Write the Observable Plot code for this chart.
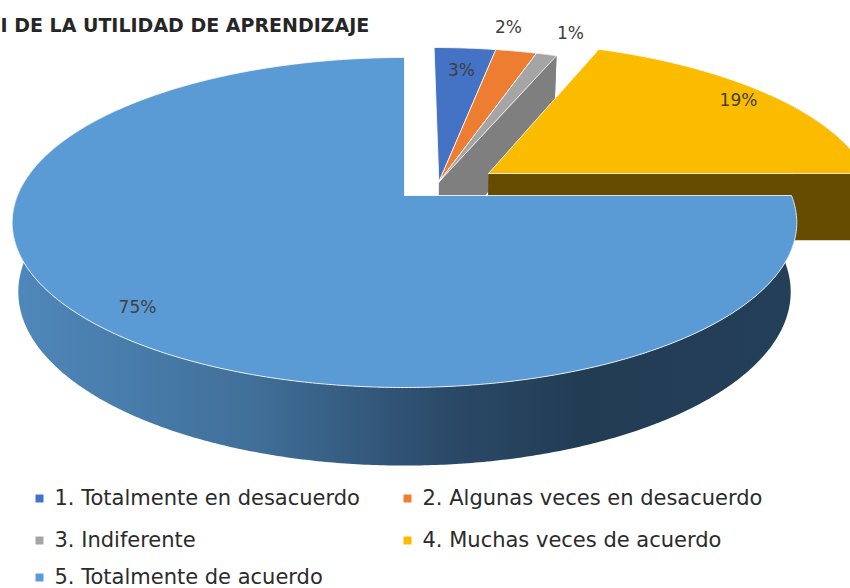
<!DOCTYPE html>
<html>
<head>
<meta charset="utf-8">
<script src="https://cdn.jsdelivr.net/npm/d3@7"></script>
<script src="https://cdn.jsdelivr.net/npm/@observablehq/plot@0.6"></script>
<style>html,body{margin:0;padding:0;background:#fff}svg{display:block}</style>
</head>
<body>
<div id="chart"></div>
<script>
const categories = ["1. Totalmente en desacuerdo","2. Algunas veces en desacuerdo","3. Indiferente","4. Muchas veces de acuerdo","5. Totalmente de acuerdo"];
const percents = [3, 2, 1, 19, 75];
const labels = ["3%","2%","1%","19%","75%"];
const colors = ["#4472c4","#ed7d31","#a5a5a5","#fbbc00","#5b9bd5"];
const titleText = "I DE LA UTILIDAD DE APRENDIZAJE";

// layout only
const W = 850, H = 588;
const explodeX = [0.09, 0.09, 0.09, 0.222, 0];
const explodeY = [-0.085, -0.085, -0.085, -0.14, 0];
const labelX = [461, 508, 570, 738, 137];
const labelY = [70, 27, 33, 100, 307];
const legendX = [39, 407, 39, 407, 39];
const legendY = [498, 498, 540, 540, 577];
const P = {cx:404, top:{a:195,b:160.6,c:387}, bot:{a:263,b:169,c:381}, k:-0.1636};

function project(X, Y, plane) {
  const w = 1 + P.k * Y;
  return {x: P.cx + plane.c * X / w, y: plane.a + plane.b * Y / w};
}
// cumulative angles, clockwise from 12 o'clock
let acc = 0;
const slices = percents.map((p, i) => {
  const s = {i, t0: acc / 100 * 2 * Math.PI, t1: (acc + p) / 100 * 2 * Math.PI};
  acc += p;
  return s;
});
function arc(t0, t1, i, plane) {
  const n = Math.max(2, Math.ceil((t1 - t0) / (Math.PI / 360)));
  return d3.range(n + 1).map(j => {
    const t = t0 + (t1 - t0) * j / n;
    return project(Math.sin(t) + explodeX[i], -Math.cos(t) + explodeY[i], plane);
  });
}
const apex = (i, plane) => project(explodeX[i], explodeY[i], plane);
function topFace(i) {
  const s = slices[i], a = apex(i, P.top);
  return [a, ...arc(s.t0, s.t1, i, P.top), a].map(d => ({...d, i}));
}
function cutWall(i, t) {
  const a = apex(i, P.top), b = apex(i, P.bot);
  const o = arc(t, t + 1e-6, i, P.top)[0], u = arc(t, t + 1e-6, i, P.bot)[0];
  return [a, o, u, b, a];
}
function rimWall(i, t0, t1) {
  const up = arc(t0, t1, i, P.top), lo = arc(t0, t1, i, P.bot).reverse();
  return [...up, ...lo, up[0]];
}
const xy = {x: "x", y: "y"};
const face = i => Plot.line(topFace(i), {...xy, fill: colors[i], stroke: "#fff", strokeWidth: 1, strokeOpacity: 0.8});
const wall = (pts, fill) => Plot.line(pts, {...xy, fill, stroke: "none"});

const gradient = () => {
  const g = d3.create("svg:g");
  const lg = g.append("defs").append("linearGradient").attr("id", "sideBlue")
    .attr("gradientUnits", "userSpaceOnUse").attr("x1", 10).attr("x2", 797).attr("y1", 0).attr("y2", 0);
  [[0, "#4f88bb"], [0.3, "#41709a"], [0.55, "#2b4a69"], [0.72, "#223c54"], [1, "#243f58"]]
    .forEach(([o, c]) => lg.append("stop").attr("offset", o).attr("stop-color", c));
  return g.node();
};
const legendRows = categories.map((name, i) => ({name, c: colors[i], x: legendX[i], y: legendY[i]}));
const labelRows = labels.map((t, i) => ({t, x: labelX[i], y: labelY[i]}));

const chart = Plot.plot({
  width: W, height: H, margin: 0,
  x: {domain: [0, W], range: [0, W], axis: null},
  y: {domain: [0, H], range: [0, H], axis: null},
  style: {background: "#fff"},
  marks: [
    gradient,
    wall(cutWall(2, slices[2].t1), "#7f7f7f"),
    wall(rimWall(2, slices[2].t0, slices[2].t1), "#7f7f7f"),
    face(0), face(1), face(2),
    wall(cutWall(3, slices[3].t1), "#664c00"),
    wall(rimWall(3, slices[3].t0 + 0.6, slices[3].t1), "#664c00"),
    face(3),
    wall(rimWall(4, slices[4].t0, slices[4].t0 + 2.0 * Math.PI * 0.60), "url(#sideBlue)"),
    face(4),
    Plot.text(labelRows, {x: "x", y: "y", text: "t", fill: "#404040", fontSize: 17, fontFamily: "DejaVu Sans, sans-serif"}),
    Plot.text([titleText], {x: () => 0, y: () => 25, text: d => d, textAnchor: "start", fontWeight: "bold", fontSize: 19, fill: "#262626", fontFamily: "DejaVu Sans, sans-serif"}),
    Plot.dot(legendRows, {x: "x", y: "y", fill: "c", symbol: "square", r: 4.5, stroke: "none"}),
    Plot.text(legendRows, {x: d => d.x + 15, y: "y", text: "name", textAnchor: "start", fontSize: 21, fill: "#2b2b2b", fontFamily: "DejaVu Sans, sans-serif"})
  ]
});
document.getElementById("chart").append(chart);
</script>
</body>
</html>
